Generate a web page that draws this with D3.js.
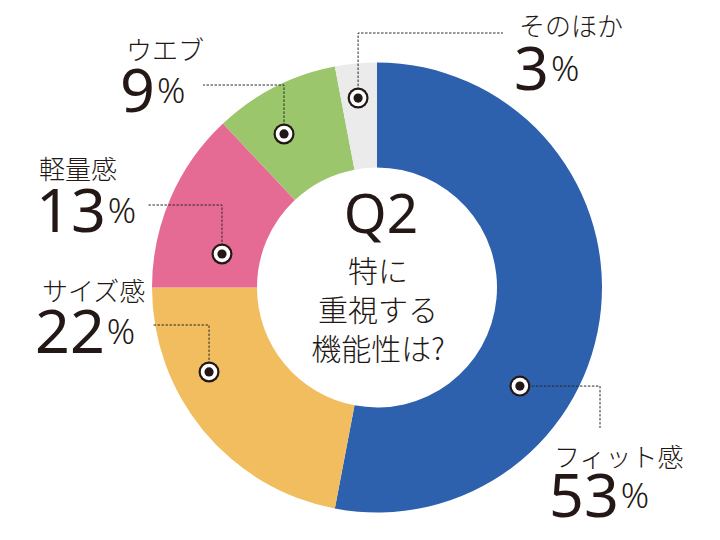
<!DOCTYPE html>
<html>
<head>
<meta charset="utf-8">
<script src="https://cdn.jsdelivr.net/npm/d3@7"></script>
<style>
  body { margin: 0; background: #fff; }
  svg { display: block; }
  text { fill: #231815; }
  .nombre { font-family: "Noto Sans CJK JP", sans-serif; font-size: 26px; font-weight: 300; }
  .cifra { font-family: "Noto Sans", "DejaVu Sans", sans-serif; font-weight: 400; }
  .cifra .pct { font-weight: 300; }
  .centro { font-family: "Noto Sans CJK JP", sans-serif; text-anchor: middle; font-weight: 300; }
</style>
</head>
<body>
<svg width="720" height="540"></svg>
<script>

// Datos
let categorias = ['フィット感', 'サイズ感', '軽量感', 'ウエブ', 'そのほか']
let valores = [53, 22, 13, 9, 3]
let colores = ['#2e61ad', '#f2bd5f', '#e56b94', '#9bc66b', '#ebebeb']

// pregunta del centro
let titulo = 'Q2'
let pregunta = ['特に', '重視する', '機能性は?']


/* Lienzo */

let svg = d3.select('svg')
let cx = 377, cy = 287.5
let rInt = 120, rExt = 225

let g = svg.append('g').attr('transform', `translate(${cx}, ${cy})`)

let pie = d3.pie().sort(null).value(d => d.valor)
let arco = d3.arc().innerRadius(rInt).outerRadius(rExt)

let datos = categorias.map((c, i) => ({nombre: c, valor: valores[i], color: colores[i]}))
let porciones = pie(datos)

g.selectAll('path.porcion')
  .data(porciones)
  .enter().append('path')
    .attr('class', 'porcion')
    .attr('d', arco)
    .attr('fill', d => d.data.color)


/* Marcadores y guias */

// angulo (grados desde arriba) y radio de cada marcador, orden de categorias
let marcas = [
  {ang: 124.6, r: 173.6, guia: 'h', codo: 600, fin: 428},
  {ang: 243.3, r: 188,   guia: 'v', codo: 325, fin: 152},
  {ang: 282.2, r: 158.6, guia: 'v', codo: 205, fin: 147},
  {ang: 328.8, r: 179.5, guia: 'v', codo: 85,  fin: 203},
  {ang: 354.3, r: 190.4, guia: 'v', codo: 33,  fin: 503}
]

let rad = d3.scaleLinear().domain([0, 360]).range([0, 2 * Math.PI])

let puntos = marcas.map(m => {
  let a = rad(m.ang)
  let x = cx + m.r * Math.sin(a)
  let y = cy - m.r * Math.cos(a)
  let camino = m.guia == 'v'
    ? [[x, y], [x, m.codo], [m.fin, m.codo]]
    : [[x, y], [m.codo, y], [m.codo, m.fin]]
  return {x, y, camino}
})

svg.selectAll('path.guia')
  .data(puntos)
  .enter().append('path')
    .attr('class', 'guia')
    .attr('d', d => d3.line()(d.camino))
    .attr('fill', 'none')
    .attr('stroke', '#2a2a2a')
    .attr('stroke-width', 1)
    .attr('stroke-dasharray', '2.5,1.5')

let marcadores = svg.selectAll('g.marca')
  .data(puntos)
  .enter().append('g')
    .attr('class', 'marca')
    .attr('transform', d => `translate(${d.x}, ${d.y})`)

marcadores.append('circle').attr('r', 10.5).attr('fill', '#231815')
marcadores.append('circle').attr('r', 8.3).attr('fill', '#fff')
marcadores.append('circle').attr('r', 4.6).attr('fill', '#231815')


/* Etiquetas */

// nombre: x, linea base; cifra: x, linea base
let etiquetas = [
  {nx: 554, ny: 467, px: 549, py: 517},
  {nx: 42,  ny: 301, px: 35,  py: 353},
  {nx: 39,  ny: 179, px: 36,  py: 232},
  {nx: 126, ny: 60,  px: 120, py: 112},
  {nx: 519, ny: 36,  px: 514, py: 90}
]

etiquetas.forEach((e, i) => {
  svg.append('text')
    .attr('class', 'nombre')
    .attr('x', e.nx).attr('y', e.ny)
    .text(categorias[i])

  let t = svg.append('text')
    .attr('class', 'cifra')
    .attr('x', e.px).attr('y', e.py)
  t.append('tspan').attr('font-size', 61).text(valores[i])
  t.append('tspan').attr('class', 'pct').attr('font-size', 35).attr('dx', 2).attr('dy', -9).text('%')
})


/* Centro */

svg.append('text')
  .attr('class', 'centro')
  .attr('x', 381).attr('y', 233)
  .attr('font-size', 55)
  .style('font-family', '"Noto Sans", sans-serif')
  .style('font-weight', 400)
  .text(titulo)

svg.selectAll('text.linea')
  .data(pregunta)
  .enter().append('text')
    .attr('class', 'centro linea')
    .attr('x', 378)
    .attr('y', (d, i) => 282 + i * 39)
    .attr('font-size', 30)
    .text(d => d)

</script>
</body>
</html>
